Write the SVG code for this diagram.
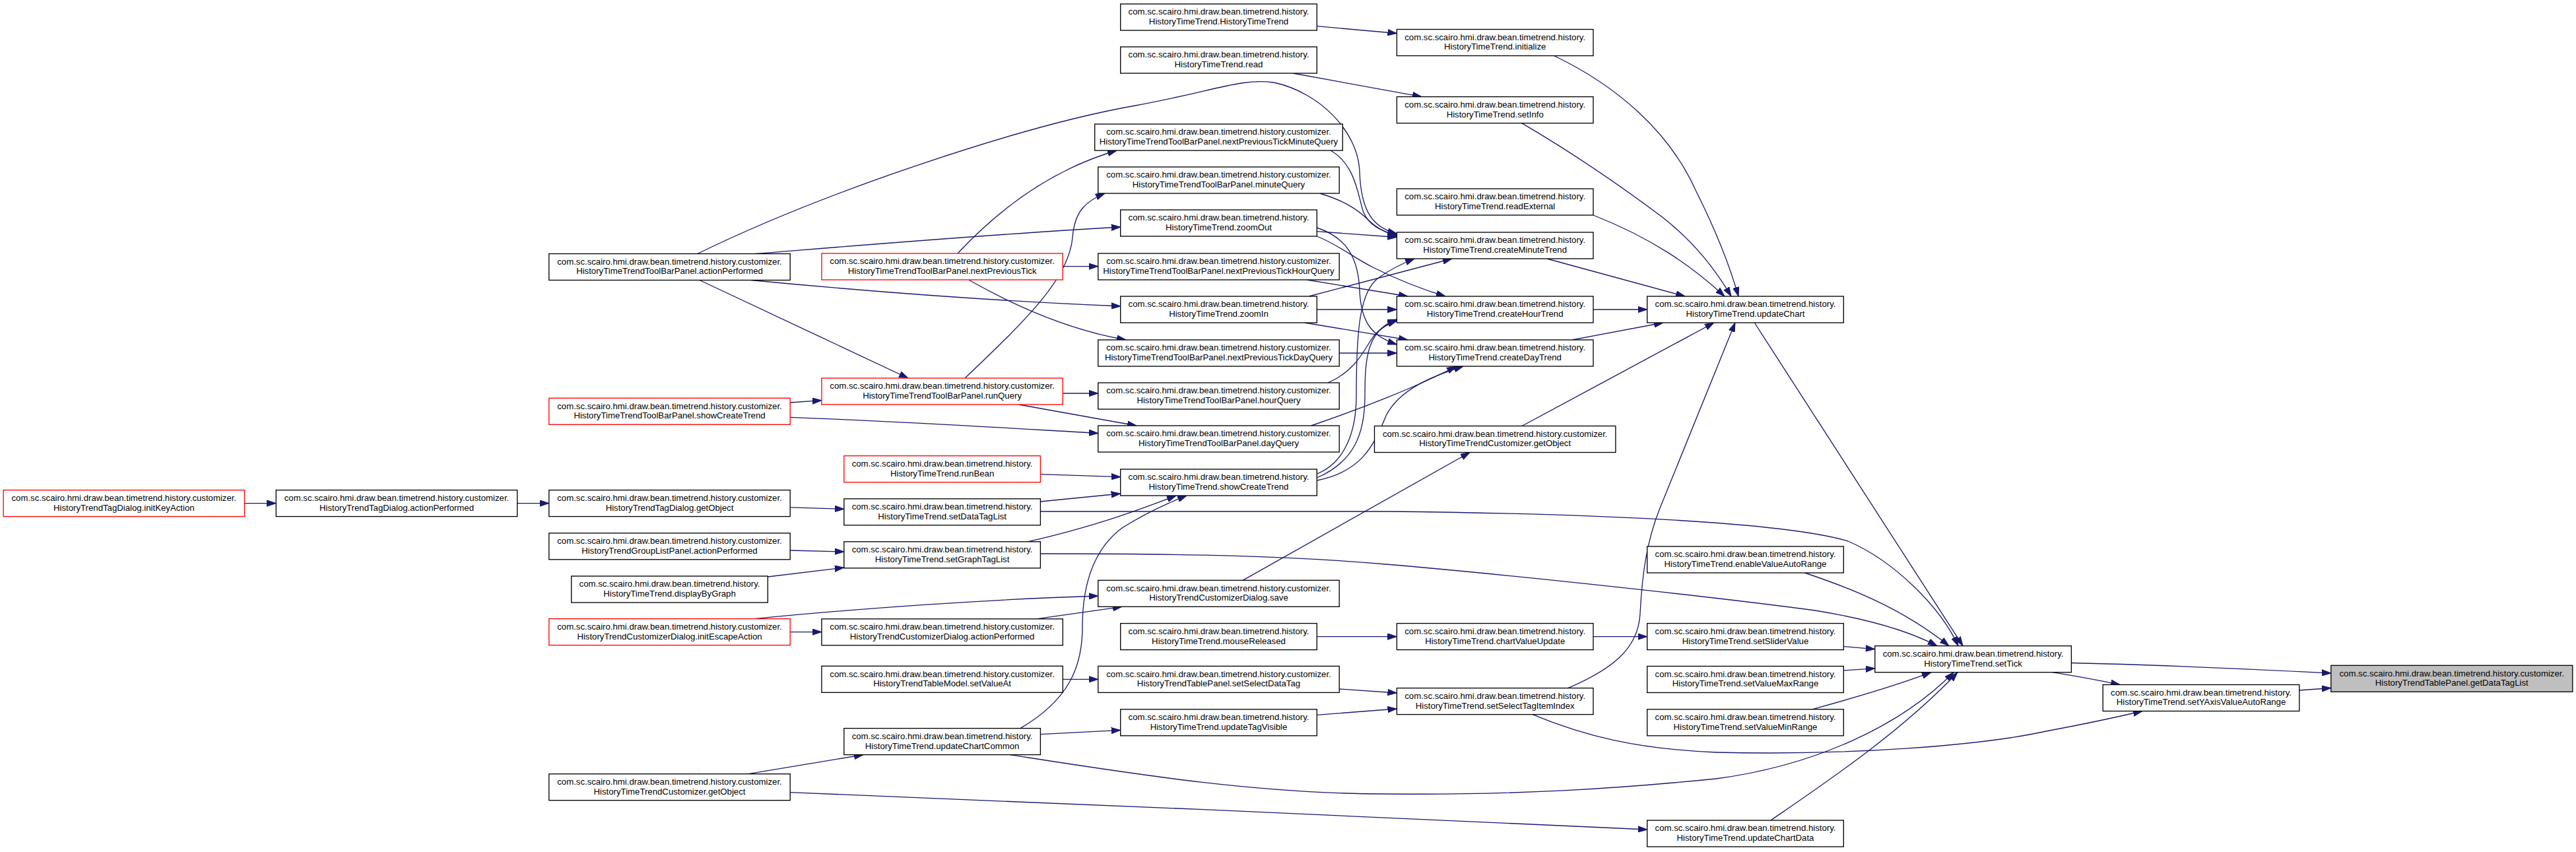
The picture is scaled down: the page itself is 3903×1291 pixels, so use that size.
<svg xmlns="http://www.w3.org/2000/svg" width="3903" height="1291" viewBox="0 0 3903 1291">
<style>
rect{fill:#fff;stroke:#000;stroke-width:1.33}
.r rect{stroke:#f00}
.f rect{fill:#bfbfbf}
text{font-family:"Liberation Sans",Arial,sans-serif;font-size:13.2px;text-anchor:middle;fill:#000}
#edges path{fill:none;stroke:#191970;stroke-width:1.33;marker-end:url(#a)}
</style>
<defs>
<marker id="a" markerWidth="14" markerHeight="10" refX="14" refY="5" orient="auto" markerUnits="userSpaceOnUse"><path d="M0,0.3 L14,5 L0,9.7 z" fill="#191970" stroke="#191970" stroke-width="1"/></marker>
</defs>
<rect x="0" y="0" width="3903" height="1291" style="fill:#fff;stroke:none"/>
<g id="edges">
<path d="M370.5,762.6 L418.3,762.6"/>
<path d="M783.7,762.6 L831.8,762.6"/>
<path d="M1197.2,768.8 L1278.8,771.3"/>
<path d="M1197.2,834 L1278.8,836"/>
<path d="M1163.3,874 L1278.8,860"/>
<path d="M1197.2,957.6 L1244.9,957.6"/>
<path d="M1143,937.6 C1300,922 1500,908 1663.8,903"/>
<path d="M1570,937.8 L1700,919.3"/>
<path d="M1610.3,1029.3 L1663.8,1029.3"/>
<path d="M1134,1172.7 L1308,1143.6"/>
<path d="M1196.7,1200.6 C1600,1215 2100,1240 2495.7,1257"/>
<path d="M1197.2,610 L1244.9,606.7"/>
<path d="M1197.2,632.3 C1400,640 1550,650 1663.8,656.5"/>
<path d="M1543.5,613 L1722,645"/>
<path d="M1610.3,596 L1663.8,596"/>
<path d="M1462,573 C1560,480 1620,420 1625,360 C1628,320 1645,305 1674,293"/>
<path d="M1451,384 C1520,310 1600,255 1692,228"/>
<path d="M1610.3,403.6 L1663.8,403.6"/>
<path d="M1467.6,424 C1540,465 1620,500 1706,515"/>
<path d="M1145,384.5 C1300,372 1500,355 1697.7,344"/>
<path d="M1138,424.5 C1350,445 1550,458 1697.7,464"/>
<path d="M1060,424.5 L1376,573"/>
<path d="M1056.7,384.5 C1250,290 1550,190 1720,160 C1840,138 1880,118 1930,125 C2000,140 2058,200 2060,260 C2062,320 2080,345 2116.4,354"/>
<path d="M1995.3,39.7 L2116.4,50.5"/>
<path d="M1959,111 L2154,146.6"/>
<path d="M2016,228 C2055,250 2058,300 2066,322 C2075,342 2092,350 2116.4,356"/>
<path d="M1999.6,293 C2040,305 2060,320 2075,335 C2085,345 2098,352 2116.4,358"/>
<path d="M1995.3,350.7 L2116.4,359.5"/>
<path d="M1995.3,358 C2030,372 2050,390 2080,405 C2120,425 2160,440 2190,449"/>
<path d="M1995.3,345 C2040,360 2058,390 2060,440 C2062,490 2080,510 2116.4,522"/>
<path d="M1980,424 L2133,449"/>
<path d="M1983.3,449 L2200,392"/>
<path d="M1995.3,469 L2116.4,469"/>
<path d="M1976.7,489 L2133,515"/>
<path d="M2029.2,535 L2116.4,535"/>
<path d="M2011.7,580 C2060,560 2070,520 2085,505 C2095,495 2105,490 2116.4,486"/>
<path d="M1986.7,645 C2060,620 2150,585 2206,555"/>
<path d="M1995.3,718 C2040,700 2055,650 2055,600 C2055,500 2060,440 2090,420 C2110,406 2128,398 2143,392"/>
<path d="M1995.3,724 C2050,700 2068,660 2068,600 C2068,540 2072,500 2116.4,484"/>
<path d="M1995.3,728 C2060,715 2080,680 2100,630 C2120,590 2170,570 2217,555"/>
<path d="M1546,1103.6 C1620,1060 1640,1010 1640,950 C1640,880 1660,830 1700,800 C1740,775 1770,762 1798,751"/>
<path d="M1557,820.8 C1650,800 1720,775 1782,751"/>
<path d="M1576.4,760 L1697.7,748"/>
<path d="M1576.4,718.6 L1697.7,722.7"/>
<path d="M1576.4,775 L2100,775 C2400,778 2700,790 2800,820 C2870,850 2940,920 2967,978.7"/>
<path d="M1576.4,839 C1800,839 1950,842 2100,855 C2300,872 2600,905 2750,925 C2830,938 2890,955 2935,978.7"/>
<path d="M1576.4,1112.6 L1697.7,1106.4"/>
<path d="M1530,1143.6 C1700,1170 1900,1203 2100,1203 C2300,1205 2450,1195 2600,1180 C2750,1160 2880,1100 2960,1018.7"/>
<path d="M2322,1082.6 C2400,1115 2480,1135 2600,1140 C2800,1145 3000,1130 3100,1108 C3170,1095 3210,1086 3246,1077.5"/>
<path d="M2376,1042.6 C2440,1015 2482,985 2485,930 C2488,870 2495,820 2515,770 L2629,489"/>
<path d="M2306,645.5 C2400,595 2520,530 2597,489"/>
<path d="M1883,879.3 L2227,685.5"/>
<path d="M1995.3,964.6 L2116.4,964.6"/>
<path d="M2414,964.6 L2495.7,964.6"/>
<path d="M2029.2,1044 L2116.4,1050"/>
<path d="M1995.3,1083.3 L2116.4,1074"/>
<path d="M2354.6,84.5 C2450,130 2530,200 2570,290 C2600,350 2620,400 2634,449"/>
<path d="M2305.8,186.6 C2380,230 2460,285 2520,330 C2570,370 2600,410 2623,449"/>
<path d="M2414,326 C2500,360 2560,400 2613,449"/>
<path d="M2343.8,392 L2553,449"/>
<path d="M2414,469 L2495.7,469"/>
<path d="M2382,515 L2520,489"/>
<path d="M2658.3,489 L2974,978.7"/>
<path d="M2734.5,868 C2800,890 2880,920 2953,978.7"/>
<path d="M2793.3,979.6 L2840.8,983.6"/>
<path d="M2793.3,1016 L2840.8,1012.8"/>
<path d="M2745.6,1074.8 C2800,1060 2870,1040 2926,1018.7"/>
<path d="M2683,1243 C2760,1190 2880,1110 2966,1018.7"/>
<path d="M3138.4,1004.5 C3300,1008 3450,1016 3531.8,1020"/>
<path d="M3109.5,1018.7 C3150,1025 3180,1031 3212,1037.5"/>
<path d="M3483.8,1046 L3531.8,1042.5"/>
</g>
<g id="n1" class="r"><rect x="5.1" y="742.6" width="365.4" height="40"/><text x="187.8" y="758.8">com.sc.scairo.hmi.draw.bean.timetrend.history.customizer.</text><text x="187.8" y="773.5">HistoryTrendTagDialog.initKeyAction</text></g>
<g id="n2"><rect x="418.3" y="742.6" width="365.4" height="40"/><text x="601" y="758.8">com.sc.scairo.hmi.draw.bean.timetrend.history.customizer.</text><text x="601" y="773.5">HistoryTrendTagDialog.actionPerformed</text></g>
<g id="n3"><rect x="831.8" y="384.5" width="365.4" height="40"/><text x="1014.5" y="400.7">com.sc.scairo.hmi.draw.bean.timetrend.history.customizer.</text><text x="1014.5" y="415.4">HistoryTimeTrendToolBarPanel.actionPerformed</text></g>
<g id="n4" class="r"><rect x="831.8" y="603.3" width="365.4" height="40"/><text x="1014.5" y="619.5">com.sc.scairo.hmi.draw.bean.timetrend.history.customizer.</text><text x="1014.5" y="634.2">HistoryTimeTrendToolBarPanel.showCreateTrend</text></g>
<g id="n5"><rect x="831.8" y="742.6" width="365.4" height="40"/><text x="1014.5" y="758.8">com.sc.scairo.hmi.draw.bean.timetrend.history.customizer.</text><text x="1014.5" y="773.5">HistoryTrendTagDialog.getObject</text></g>
<g id="n6"><rect x="831.8" y="807.8" width="365.4" height="40"/><text x="1014.5" y="824">com.sc.scairo.hmi.draw.bean.timetrend.history.customizer.</text><text x="1014.5" y="838.7">HistoryTrendGroupListPanel.actionPerformed</text></g>
<g id="n7"><rect x="865.7" y="873" width="297.6" height="40"/><text x="1014.5" y="889.2">com.sc.scairo.hmi.draw.bean.timetrend.history.</text><text x="1014.5" y="903.9">HistoryTimeTrend.displayByGraph</text></g>
<g id="n8" class="r"><rect x="831.8" y="937.6" width="365.4" height="40"/><text x="1014.5" y="953.8">com.sc.scairo.hmi.draw.bean.timetrend.history.customizer.</text><text x="1014.5" y="968.5">HistoryTrendCustomizerDialog.initEscapeAction</text></g>
<g id="n9"><rect x="831.8" y="1172.7" width="365.4" height="40"/><text x="1014.5" y="1188.9">com.sc.scairo.hmi.draw.bean.timetrend.history.customizer.</text><text x="1014.5" y="1203.6">HistoryTimeTrendCustomizer.getObject</text></g>
<g id="n10" class="r"><rect x="1244.9" y="384" width="365.4" height="40"/><text x="1427.6" y="400.2">com.sc.scairo.hmi.draw.bean.timetrend.history.customizer.</text><text x="1427.6" y="414.9">HistoryTimeTrendToolBarPanel.nextPreviousTick</text></g>
<g id="n11" class="r"><rect x="1244.9" y="573" width="365.4" height="40"/><text x="1427.6" y="589.2">com.sc.scairo.hmi.draw.bean.timetrend.history.customizer.</text><text x="1427.6" y="603.9">HistoryTimeTrendToolBarPanel.runQuery</text></g>
<g id="n12" class="r"><rect x="1278.8" y="690.7" width="297.6" height="40"/><text x="1427.6" y="706.9">com.sc.scairo.hmi.draw.bean.timetrend.history.</text><text x="1427.6" y="721.6">HistoryTimeTrend.runBean</text></g>
<g id="n13"><rect x="1278.8" y="755.8" width="297.6" height="40"/><text x="1427.6" y="772">com.sc.scairo.hmi.draw.bean.timetrend.history.</text><text x="1427.6" y="786.7">HistoryTimeTrend.setDataTagList</text></g>
<g id="n14"><rect x="1278.8" y="820.8" width="297.6" height="40"/><text x="1427.6" y="837">com.sc.scairo.hmi.draw.bean.timetrend.history.</text><text x="1427.6" y="851.7">HistoryTimeTrend.setGraphTagList</text></g>
<g id="n15"><rect x="1244.9" y="937.8" width="365.4" height="40"/><text x="1427.6" y="954">com.sc.scairo.hmi.draw.bean.timetrend.history.customizer.</text><text x="1427.6" y="968.7">HistoryTrendCustomizerDialog.actionPerformed</text></g>
<g id="n16"><rect x="1244.9" y="1009.3" width="365.4" height="40"/><text x="1427.6" y="1025.5">com.sc.scairo.hmi.draw.bean.timetrend.history.customizer.</text><text x="1427.6" y="1040.2">HistoryTrendTableModel.setValueAt</text></g>
<g id="n17"><rect x="1278.8" y="1103.6" width="297.6" height="40"/><text x="1427.6" y="1119.8">com.sc.scairo.hmi.draw.bean.timetrend.history.</text><text x="1427.6" y="1134.5">HistoryTimeTrend.updateChartCommon</text></g>
<g id="n18"><rect x="1697.7" y="6" width="297.6" height="40"/><text x="1846.5" y="22.2">com.sc.scairo.hmi.draw.bean.timetrend.history.</text><text x="1846.5" y="36.9">HistoryTimeTrend.HistoryTimeTrend</text></g>
<g id="n19"><rect x="1697.7" y="71" width="297.6" height="40"/><text x="1846.5" y="87.2">com.sc.scairo.hmi.draw.bean.timetrend.history.</text><text x="1846.5" y="101.9">HistoryTimeTrend.read</text></g>
<g id="n20"><rect x="1658.7" y="188" width="375.6" height="40"/><text x="1846.5" y="204.2">com.sc.scairo.hmi.draw.bean.timetrend.history.customizer.</text><text x="1846.5" y="218.9">HistoryTimeTrendToolBarPanel.nextPreviousTickMinuteQuery</text></g>
<g id="n21"><rect x="1663.8" y="253" width="365.4" height="40"/><text x="1846.5" y="269.2">com.sc.scairo.hmi.draw.bean.timetrend.history.customizer.</text><text x="1846.5" y="283.9">HistoryTimeTrendToolBarPanel.minuteQuery</text></g>
<g id="n22"><rect x="1697.7" y="318" width="297.6" height="40"/><text x="1846.5" y="334.2">com.sc.scairo.hmi.draw.bean.timetrend.history.</text><text x="1846.5" y="348.9">HistoryTimeTrend.zoomOut</text></g>
<g id="n23"><rect x="1663.8" y="384" width="365.4" height="40"/><text x="1846.5" y="400.2">com.sc.scairo.hmi.draw.bean.timetrend.history.customizer.</text><text x="1846.5" y="414.9">HistoryTimeTrendToolBarPanel.nextPreviousTickHourQuery</text></g>
<g id="n24"><rect x="1697.7" y="449" width="297.6" height="40"/><text x="1846.5" y="465.2">com.sc.scairo.hmi.draw.bean.timetrend.history.</text><text x="1846.5" y="479.9">HistoryTimeTrend.zoomIn</text></g>
<g id="n25"><rect x="1663.8" y="515" width="365.4" height="40"/><text x="1846.5" y="531.2">com.sc.scairo.hmi.draw.bean.timetrend.history.customizer.</text><text x="1846.5" y="545.9">HistoryTimeTrendToolBarPanel.nextPreviousTickDayQuery</text></g>
<g id="n26"><rect x="1663.8" y="580" width="365.4" height="40"/><text x="1846.5" y="596.2">com.sc.scairo.hmi.draw.bean.timetrend.history.customizer.</text><text x="1846.5" y="610.9">HistoryTimeTrendToolBarPanel.hourQuery</text></g>
<g id="n27"><rect x="1663.8" y="645" width="365.4" height="40"/><text x="1846.5" y="661.2">com.sc.scairo.hmi.draw.bean.timetrend.history.customizer.</text><text x="1846.5" y="675.9">HistoryTimeTrendToolBarPanel.dayQuery</text></g>
<g id="n28"><rect x="1697.7" y="711" width="297.6" height="40"/><text x="1846.5" y="727.2">com.sc.scairo.hmi.draw.bean.timetrend.history.</text><text x="1846.5" y="741.9">HistoryTimeTrend.showCreateTrend</text></g>
<g id="n29"><rect x="1663.8" y="879.3" width="365.4" height="40"/><text x="1846.5" y="895.5">com.sc.scairo.hmi.draw.bean.timetrend.history.customizer.</text><text x="1846.5" y="910.2">HistoryTrendCustomizerDialog.save</text></g>
<g id="n30"><rect x="1697.7" y="944.6" width="297.6" height="40"/><text x="1846.5" y="960.8">com.sc.scairo.hmi.draw.bean.timetrend.history.</text><text x="1846.5" y="975.5">HistoryTimeTrend.mouseReleased</text></g>
<g id="n31"><rect x="1663.8" y="1009.4" width="365.4" height="40"/><text x="1846.5" y="1025.6">com.sc.scairo.hmi.draw.bean.timetrend.history.customizer.</text><text x="1846.5" y="1040.3">HistoryTrendTablePanel.setSelectDataTag</text></g>
<g id="n32"><rect x="1697.7" y="1074.8" width="297.6" height="40"/><text x="1846.5" y="1091">com.sc.scairo.hmi.draw.bean.timetrend.history.</text><text x="1846.5" y="1105.7">HistoryTimeTrend.updateTagVisible</text></g>
<g id="n33"><rect x="2116.4" y="44.5" width="297.6" height="40"/><text x="2265.2" y="60.7">com.sc.scairo.hmi.draw.bean.timetrend.history.</text><text x="2265.2" y="75.4">HistoryTimeTrend.initialize</text></g>
<g id="n34"><rect x="2116.4" y="146.6" width="297.6" height="40"/><text x="2265.2" y="162.8">com.sc.scairo.hmi.draw.bean.timetrend.history.</text><text x="2265.2" y="177.5">HistoryTimeTrend.setInfo</text></g>
<g id="n35"><rect x="2116.4" y="286" width="297.6" height="40"/><text x="2265.2" y="302.2">com.sc.scairo.hmi.draw.bean.timetrend.history.</text><text x="2265.2" y="316.9">HistoryTimeTrend.readExternal</text></g>
<g id="n36"><rect x="2116.4" y="352" width="297.6" height="40"/><text x="2265.2" y="368.2">com.sc.scairo.hmi.draw.bean.timetrend.history.</text><text x="2265.2" y="382.9">HistoryTimeTrend.createMinuteTrend</text></g>
<g id="n37"><rect x="2116.4" y="449" width="297.6" height="40"/><text x="2265.2" y="465.2">com.sc.scairo.hmi.draw.bean.timetrend.history.</text><text x="2265.2" y="479.9">HistoryTimeTrend.createHourTrend</text></g>
<g id="n38"><rect x="2116.4" y="515" width="297.6" height="40"/><text x="2265.2" y="531.2">com.sc.scairo.hmi.draw.bean.timetrend.history.</text><text x="2265.2" y="545.9">HistoryTimeTrend.createDayTrend</text></g>
<g id="n39"><rect x="2082.5" y="645.5" width="365.4" height="40"/><text x="2265.2" y="661.7">com.sc.scairo.hmi.draw.bean.timetrend.history.customizer.</text><text x="2265.2" y="676.4">HistoryTimeTrendCustomizer.getObject</text></g>
<g id="n40"><rect x="2116.4" y="944.6" width="297.6" height="40"/><text x="2265.2" y="960.8">com.sc.scairo.hmi.draw.bean.timetrend.history.</text><text x="2265.2" y="975.5">HistoryTimeTrend.chartValueUpdate</text></g>
<g id="n41"><rect x="2116.4" y="1042.6" width="297.6" height="40"/><text x="2265.2" y="1058.8">com.sc.scairo.hmi.draw.bean.timetrend.history.</text><text x="2265.2" y="1073.5">HistoryTimeTrend.setSelectTagItemIndex</text></g>
<g id="n42"><rect x="2495.7" y="449" width="297.6" height="40"/><text x="2644.5" y="465.2">com.sc.scairo.hmi.draw.bean.timetrend.history.</text><text x="2644.5" y="479.9">HistoryTimeTrend.updateChart</text></g>
<g id="n43"><rect x="2495.7" y="828" width="297.6" height="40"/><text x="2644.5" y="844.2">com.sc.scairo.hmi.draw.bean.timetrend.history.</text><text x="2644.5" y="858.9">HistoryTimeTrend.enableValueAutoRange</text></g>
<g id="n44"><rect x="2495.7" y="944.6" width="297.6" height="40"/><text x="2644.5" y="960.8">com.sc.scairo.hmi.draw.bean.timetrend.history.</text><text x="2644.5" y="975.5">HistoryTimeTrend.setSliderValue</text></g>
<g id="n45"><rect x="2495.7" y="1009.5" width="297.6" height="40"/><text x="2644.5" y="1025.7">com.sc.scairo.hmi.draw.bean.timetrend.history.</text><text x="2644.5" y="1040.4">HistoryTimeTrend.setValueMaxRange</text></g>
<g id="n46"><rect x="2495.7" y="1074.8" width="297.6" height="40"/><text x="2644.5" y="1091">com.sc.scairo.hmi.draw.bean.timetrend.history.</text><text x="2644.5" y="1105.7">HistoryTimeTrend.setValueMinRange</text></g>
<g id="n47"><rect x="2495.7" y="1243" width="297.6" height="40"/><text x="2644.5" y="1259.2">com.sc.scairo.hmi.draw.bean.timetrend.history.</text><text x="2644.5" y="1273.9">HistoryTimeTrend.updateChartData</text></g>
<g id="n48"><rect x="2840.8" y="978.7" width="297.6" height="40"/><text x="2989.6" y="994.9">com.sc.scairo.hmi.draw.bean.timetrend.history.</text><text x="2989.6" y="1009.6">HistoryTimeTrend.setTick</text></g>
<g id="n49"><rect x="3186.2" y="1037.5" width="297.6" height="40"/><text x="3335" y="1053.7">com.sc.scairo.hmi.draw.bean.timetrend.history.</text><text x="3335" y="1068.4">HistoryTimeTrend.setYAxisValueAutoRange</text></g>
<g id="n50" class="f"><rect x="3531.8" y="1008.3" width="366" height="40"/><text x="3714.8" y="1024.5">com.sc.scairo.hmi.draw.bean.timetrend.history.customizer.</text><text x="3714.8" y="1039.2">HistoryTrendTablePanel.getDataTagList</text></g>
</svg>
